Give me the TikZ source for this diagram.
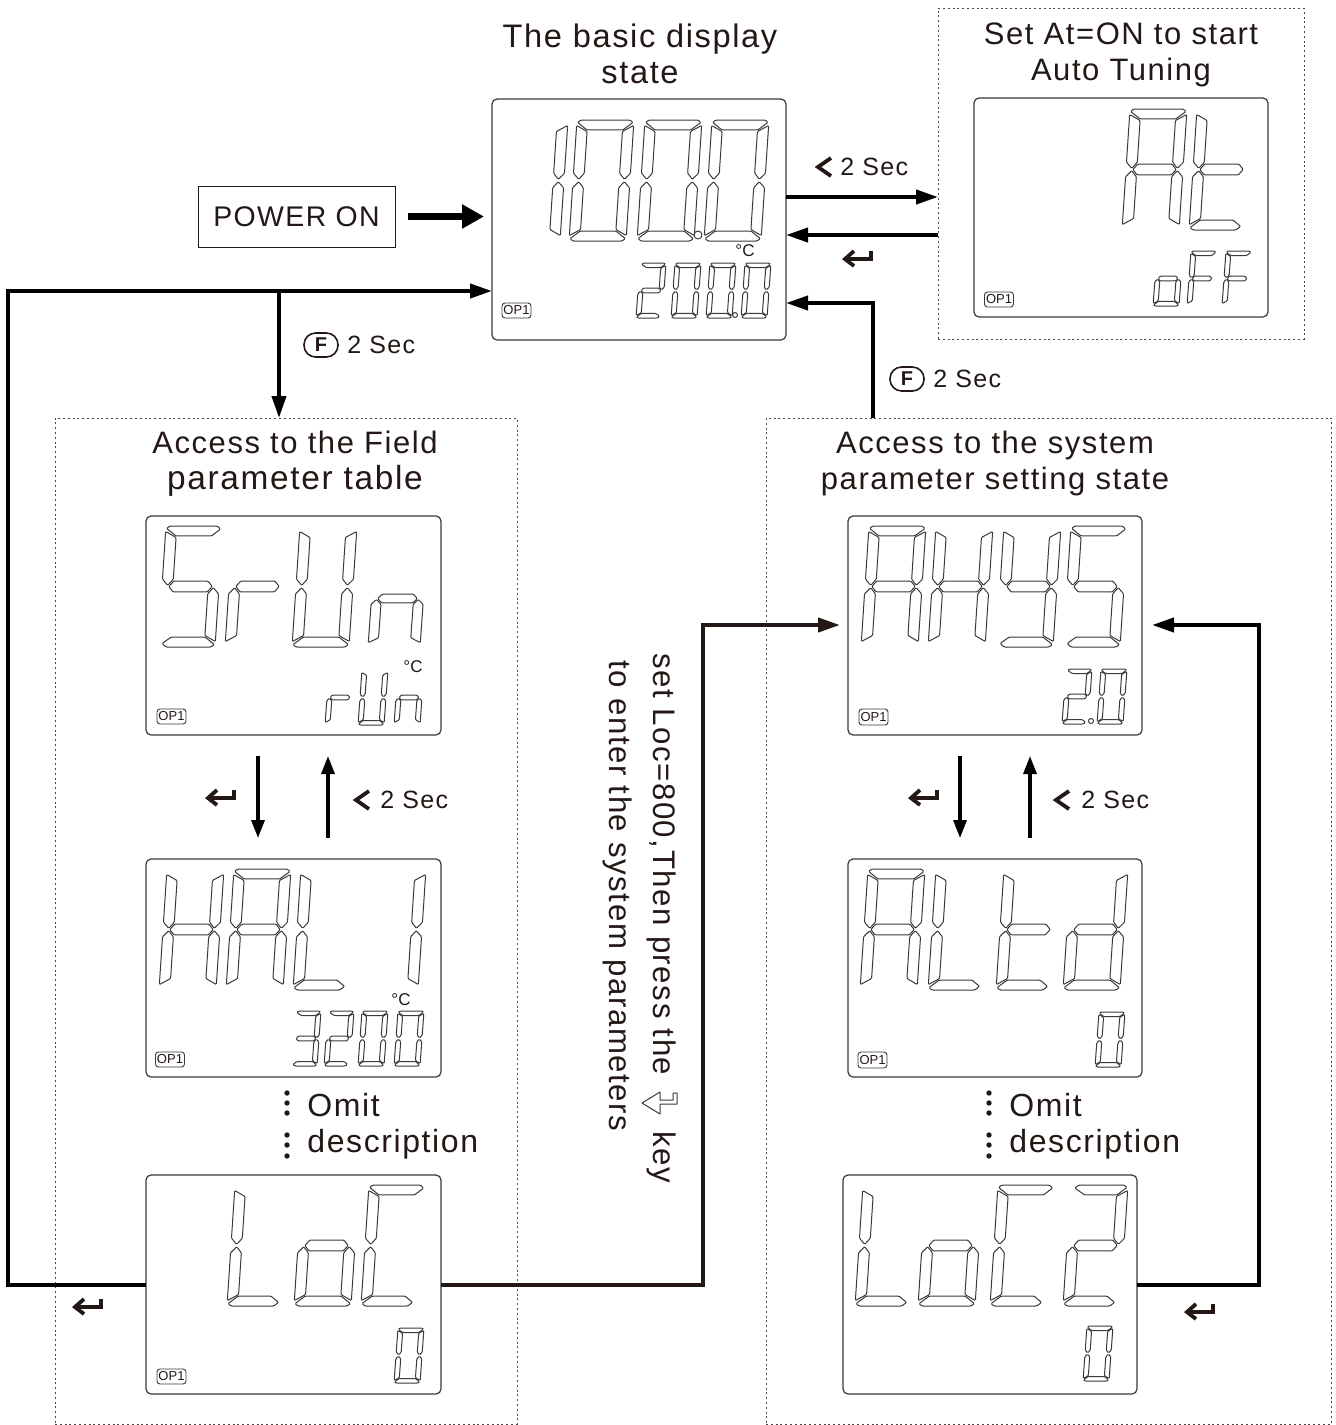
\documentclass[tikz,border=0pt]{standalone}
\usepackage{fontspec}
\setmainfont[LetterSpace=5]{Liberation Sans}
\newfontfamily\plainf{Liberation Sans}
\usetikzlibrary{arrows.meta,calc}
\definecolor{ink}{HTML}{231815}
\definecolor{segc}{HTML}{3A3A3A}
\tikzset{
  segline/.style={draw=segc,line width=0.5pt,line join=round,rounded corners=0.5pt},
  lcdbox/.style={draw=segc,line width=0.6pt,rounded corners=2.5pt,inner sep=0,outer sep=0},
  dotbox/.style={draw=ink!80,line width=0.5pt,dash pattern=on 1pt off 1.4pt,inner sep=0,outer sep=0},
  pwrbox/.style={draw=ink,line width=0.5pt,inner sep=0,outer sep=0,minimum width=98.5pt,minimum height=30.5pt,text=ink,font=\fontsize{14.2}{18}\selectfont},
  conn/.style={draw=black,line width=2pt,-{Triangle[length=11pt,width=7pt]}},
  connm/.style={draw=ink,line width=2pt,-{Triangle[length=11pt,width=7pt]}},
  connv/.style={draw=black,line width=1.6pt,-{Triangle[length=9pt,width=6.5pt]},shorten <=10.5pt,shorten >=10.5pt},
  pwrarrow/.style={draw=black,line width=3.6pt,-{Triangle[length=11pt,width=11.5pt]}},
  title/.style={align=center,text=ink,inner sep=0,font=\fontsize{15.5}{18}\selectfont},
  lbl/.style={anchor=west,text=ink,inner sep=0,font=\fontsize{12.5}{15}\selectfont},
  omit/.style={anchor=west,align=left,text=ink,inner sep=0,font=\fontsize{16}{18}\selectfont},
  side/.style={anchor=west,rotate=-90,text=ink,inner sep=0,font=\fontsize{15.6}{17}\selectfont},
  oplabel/.style={draw=segc,line width=0.45pt,rounded corners=1.5pt,inner sep=0,outer sep=0,text=ink,font=\plainf\fontsize{6.5}{7}\selectfont},
  degc/.style={inner sep=0,text=ink,font=\plainf\fontsize{8.5}{9}\selectfont},
  iconl/.style={draw=ink,line width=1.9pt,line join=miter},
  pill/.style={draw=ink,line width=0.8pt,rounded corners=5.8pt,minimum width=17pt,minimum height=12pt,inner sep=0,text=ink,font=\plainf\bfseries\fontsize{10}{10}\selectfont},
  dotf/.style={fill=ink,draw=none}
}
\newcommand\lsega{\draw[segline] (.015,.98)--(.07,1)--(.93,1)--(.985,.98)--(.815,.918)--(.185,.918)--cycle;}
\newcommand\lsegaL{\draw[segline] (.015,.98)--(.07,1)--(.9,1)--(.96,.975)--(.81,.918)--(.185,.918)--cycle;}
\newcommand\lsegaR{\draw[segline] (.07,.975)--(.14,1)--(.93,1)--(.985,.98)--(.815,.918)--(.25,.918)--cycle;}
\newcommand\lsegb{\draw[segline] (1,.955)--(1,.56)--(.9,.51)--(.81,.56)--(.81,.905)--cycle;}
\newcommand\lsegc{\draw[segline] (1,.045)--(1,.44)--(.9,.49)--(.81,.44)--(.81,.095)--cycle;}
\newcommand\lsegd{\draw[segline] (.015,.02)--(.07,0)--(.93,0)--(.985,.02)--(.815,.082)--(.185,.082)--cycle;}
\newcommand\lsegdL{\draw[segline] (.015,.02)--(.07,0)--(.82,0)--(.9,.03)--(.76,.082)--(.185,.082)--cycle;}
\newcommand\lsegdR{\draw[segline] (.07,.03)--(.14,0)--(.93,0)--(.985,.02)--(.815,.082)--(.22,.082)--cycle;}
\newcommand\lsege{\draw[segline] (0,.045)--(0,.44)--(.1,.49)--(.19,.44)--(.19,.095)--cycle;}
\newcommand\lsegf{\draw[segline] (0,.955)--(0,.56)--(.1,.51)--(.19,.56)--(.19,.905)--cycle;}
\newcommand\lsegg{\draw[segline] (.12,.5)--(.2,.545)--(.8,.545)--(.88,.5)--(.8,.455)--(.2,.455)--cycle;}
\newcommand\glyphat[6]{%
  \pgfmathsetmacro\gux{(#3-#5)*0.5}%
  \pgfmathsetmacro\guy{#4*0.5}%
  \pgfmathsetmacro\gus{#5*0.5}%
  \pgfmathsetmacro\gyb{#2+#4}%
  \begin{scope}[shift={(#1,\gyb)},x={(\gux pt,0pt)},y={(\gus pt,\guy pt)}]
    \foreach \k in {#6}{\csname lseg\k\endcsname}
  \end{scope}}
\newcommand\lcdL[3]{\glyphat{#1}{#2}{65}{121}{8}{#3}}
\newcommand\lcdS[3]{\glyphat{#1}{#2}{30}{55}{4}{#3}}
\newcommand\mkbox[6]{%
  \pgfmathsetmacro\bw{(#5-#3)*0.5}%
  \pgfmathsetmacro\bh{(#6-#4)*0.5}%
  \pgfmathsetmacro\bx{(#3+#5)/2}%
  \pgfmathsetmacro\by{(#4+#6)/2}%
  \node[#1,minimum width=\bw pt,minimum height=\bh pt] (#2) at (\bx,\by) {};}
\newcommand\retkey[2]{\begin{scope}[shift={(#1,#2)}]
  \draw[iconl] (28,-7)--(28,1)--(3,1);
  \draw[iconl] (11,-7)--(2,1)--(11,8);
\end{scope}}
\newcommand\chevron[2]{\begin{scope}[shift={(#1,#2)}]
  \draw[iconl] (16,-9)--(3,0)--(16,9);
\end{scope}}
\newcommand\omitdots[2]{\begin{scope}[shift={(#1,#2)}]
  \fill[dotf] (0,0) circle[radius=2.7] (0,10) circle[radius=2.7] (0,20) circle[radius=2.7];
  \fill[dotf] (0,42) circle[radius=2.7] (0,52) circle[radius=2.7] (0,63) circle[radius=2.7];
\end{scope}}
\begin{document}
\begin{tikzpicture}[x=0.5pt,y=-0.5pt]
\useasboundingbox (0,0) rectangle (1336,1425);
\fill[white] (0,0) rectangle (1336,1425);
% frames
\mkbox{dotbox}{atf}{938}{8}{1304}{339}
\mkbox{dotbox}{fieldf}{55}{418}{517}{1424}
\mkbox{dotbox}{sysf}{766}{418}{1331}{1424}
% displays
\mkbox{lcdbox}{disp}{492}{99}{786}{340}
\mkbox{lcdbox}{atd}{974}{98}{1268}{317}
\mkbox{lcdbox}{srun}{146}{516}{441}{735}
\mkbox{lcdbox}{hal}{146}{859}{441}{1077}
\mkbox{lcdbox}{loc}{146}{1175}{441}{1394}
\mkbox{lcdbox}{ahys}{848}{516}{1142}{735}
\mkbox{lcdbox}{altd}{848}{859}{1142}{1077}
\mkbox{lcdbox}{loctwo}{843}{1175}{1137}{1394}
% titles
\node[title,font=\fontsize{16.3}{18}\selectfont] (t1) at (640,54) {The basic display\\state};
\node[title] (t2) at (1121,55) {Set At=ON to start\\Auto Tuning};
\node[title] (t3) at (295,464) {Access to the Field\\\fontsize{16.7}{18}\selectfont parameter table};
\node[title] (t4) at (995,463) {Access to the system\\parameter setting state};
\node[pwrbox] (pwr) at (296.5,216.5) {POWER ON};
% display 1
\lcdL{503}{120}{b,c}
\lcdL{569}{120}{a,b,c,d,e,f}
\lcdL{637}{120}{a,b,c,d,e,f}
\lcdL{704}{120}{a,b,c,d,e,f}
\draw[segline] (698,235) circle[radius=4];
\lcdS{636}{263}{aR,b,g,e,dL}
\lcdS{671}{263}{a,b,c,d,e,f}
\lcdS{706}{263}{a,b,c,d,e,f}
\lcdS{741}{263}{a,b,c,d,e,f}
\draw[segline] (735,315) circle[radius=2.5];
\node[degc] (dg1) at (745,251) {°C};
\node[oplabel,minimum width=14.5pt,minimum height=7.5pt] (op1) at (516.5,310.5) {OP1};
% At
\lcdL{1122}{109}{a,b,c,e,f,g}
\lcdL{1189}{109}{dL,e,f,g}
\lcdS{1153}{251}{c,d,e,g}
\lcdS{1187}{251}{aL,e,f,g}
\lcdS{1222}{251}{aL,e,f,g}
\node[oplabel,minimum width=14.5pt,minimum height=7.5pt] (op2) at (999,299.5) {OP1};
% SrUn
\lcdL{158}{526}{aL,f,g,c,dR}
\lcdL{225}{526}{e,g}
\lcdL{292}{526}{b,c,d,e,f}
\glyphat{368}{550}{59}{97}{7}{c,e,g}
\lcdS{325}{670}{e,g}
\lcdS{358}{670}{b,c,d,e,f}
\lcdS{394}{670}{c,e,g}
\node[degc] (dg2) at (413,667) {°C};
\node[oplabel,minimum width=14.5pt,minimum height=7.5pt] (op3) at (171.5,716.5) {OP1};
% HAL1
\lcdL{159}{869}{b,c,e,f,g}
\lcdL{226}{869}{a,b,c,e,f,g}
\lcdL{293}{869}{dL,e,f}
\lcdL{361}{869}{b,c}
\lcdS{291}{1011}{aR,b,c,g,dR}
\lcdS{324}{1011}{aR,b,g,e,dL}
\lcdS{358}{1011}{a,b,c,d,e,f}
\lcdS{394}{1011}{a,b,c,d,e,f}
\node[degc] (dg3) at (401,1000) {°C};
\node[oplabel,minimum width=14.5pt,minimum height=7.5pt] (op4) at (170,1059.5) {OP1};
% LoC
\lcdL{227}{1185}{dL,e,f}
\lcdL{294}{1185}{c,d,e,g}
\lcdL{361}{1185}{aL,dL,e,f}
\lcdS{394}{1328}{a,b,c,d,e,f}
\node[oplabel,minimum width=14.5pt,minimum height=7.5pt] (op5) at (171.5,1376.5) {OP1};
% AHYS
\lcdL{861}{526}{a,b,c,e,f,g}
\lcdL{928}{526}{b,c,e,f,g}
\lcdL{996}{526}{b,c,f,g,dR}
\lcdL{1063}{526}{aL,f,g,c,dR}
\lcdS{1062}{669}{aR,b,g,e,dL}
\lcdS{1097}{669}{a,b,c,d,e,f}
\draw[segline] (1091,721) circle[radius=2.5];
\node[oplabel,minimum width=14.5pt,minimum height=8pt] (op6) at (873.5,717) {OP1};
% ALtd
\lcdL{860}{869}{a,b,c,e,f,g}
\lcdL{928}{869}{dL,e,f}
\lcdL{996}{869}{dL,e,f,g}
\lcdL{1063}{869}{b,c,d,e,g}
\lcdS{1095}{1012}{a,b,c,d,e,f}
\node[oplabel,minimum width=14.5pt,minimum height=8pt] (op7) at (872.5,1060) {OP1};
% LoC2
\lcdL{855}{1185}{dL,e,f}
\lcdL{918}{1185}{c,d,e,g}
\lcdL{990}{1185}{aL,dL,e,f}
\lcdL{1063}{1185}{aR,b,g,e,dL}
\lcdS{1083}{1326}{a,b,c,d,e,f}
% helper points
\coordinate (r1) at (0,197);
\coordinate (r2) at (0,235);
\coordinate (s1) at (873,303);
\coordinate (l2) at (8,291);
\coordinate (j1) at (279,291);
\coordinate (m1) at (703,625);
\coordinate (m2) at (1259,625);
\coordinate (v1) at (258,0);
\coordinate (v2) at (328,0);
\coordinate (v3) at (960,0);
\coordinate (v4) at (1030,0);
% connectors
\draw[pwrarrow,shorten <=6.5pt,shorten >=4pt] (pwr.east) -- (disp.west |- pwr.east);
\draw[conn] (disp.east |- r1) -- (atf.west |- r1);
\draw[conn] (atf.west |- r2) -- (disp.east |- r2);
\draw[conn] (sysf.north -| s1) -- (s1) -- (disp.east |- s1);
\draw[conn] (loc.west) -- (loc.west -| l2) -- (l2) -- (disp.west |- l2);
\draw[conn] (j1) -- (fieldf.north -| j1);
\draw[connm,shorten >=4pt] (loc.east) -- (loc.east -| m1) -- (m1) -- (ahys.west |- m1);
\draw[conn,shorten >=5pt] (loctwo.east) -- (loctwo.east -| m2) -- (m2) -- (ahys.east |- m2);
\draw[connv] (srun.south -| v1) -- (hal.north -| v1);
\draw[connv] (hal.north -| v2) -- (srun.south -| v2);
\draw[connv] (ahys.south -| v3) -- (altd.north -| v3);
\draw[connv] (altd.north -| v4) -- (ahys.south -| v4);
% key labels
\chevron{815}{167}
\node[lbl] (sec1) at (840,167) {2 Sec};
\retkey{843}{258}
\node[pill] (fa) at (321,345) {F};
\node[lbl] (sec2) at (347,345) {2 Sec};
\node[pill] (fb) at (907,379) {F};
\node[lbl] (sec3) at (933,379) {2 Sec};
\retkey{206}{797}
\chevron{353}{800}
\node[lbl] (sec4) at (380,800) {2 Sec};
\retkey{909}{797}
\chevron{1053}{800}
\node[lbl] (sec5) at (1081,800) {2 Sec};
\retkey{73}{1306}
\retkey{1185}{1311}
% omit
\omitdots{287}{1093}
\omitdots{989}{1093}
\node[omit] (om1) at (307,1126) {Omit\\description};
\node[omit] (om2) at (1009,1126) {Omit\\description};
% rotated text
\node[side] (sa) at (662,653) {set Loc=800,Then press the};
\node[side] (sb) at (662,1131) {key};
\node[side] (sc) at (618,660) {to enter the system parameters};
\draw[draw=segc,line width=0.5pt,line join=round] (642,1103)--(660,1092)--(660,1100)--(673,1100)--(673,1093)--(677,1093)--(677,1104)--(660,1104)--(660,1114)--cycle;
\end{tikzpicture}
\end{document}
